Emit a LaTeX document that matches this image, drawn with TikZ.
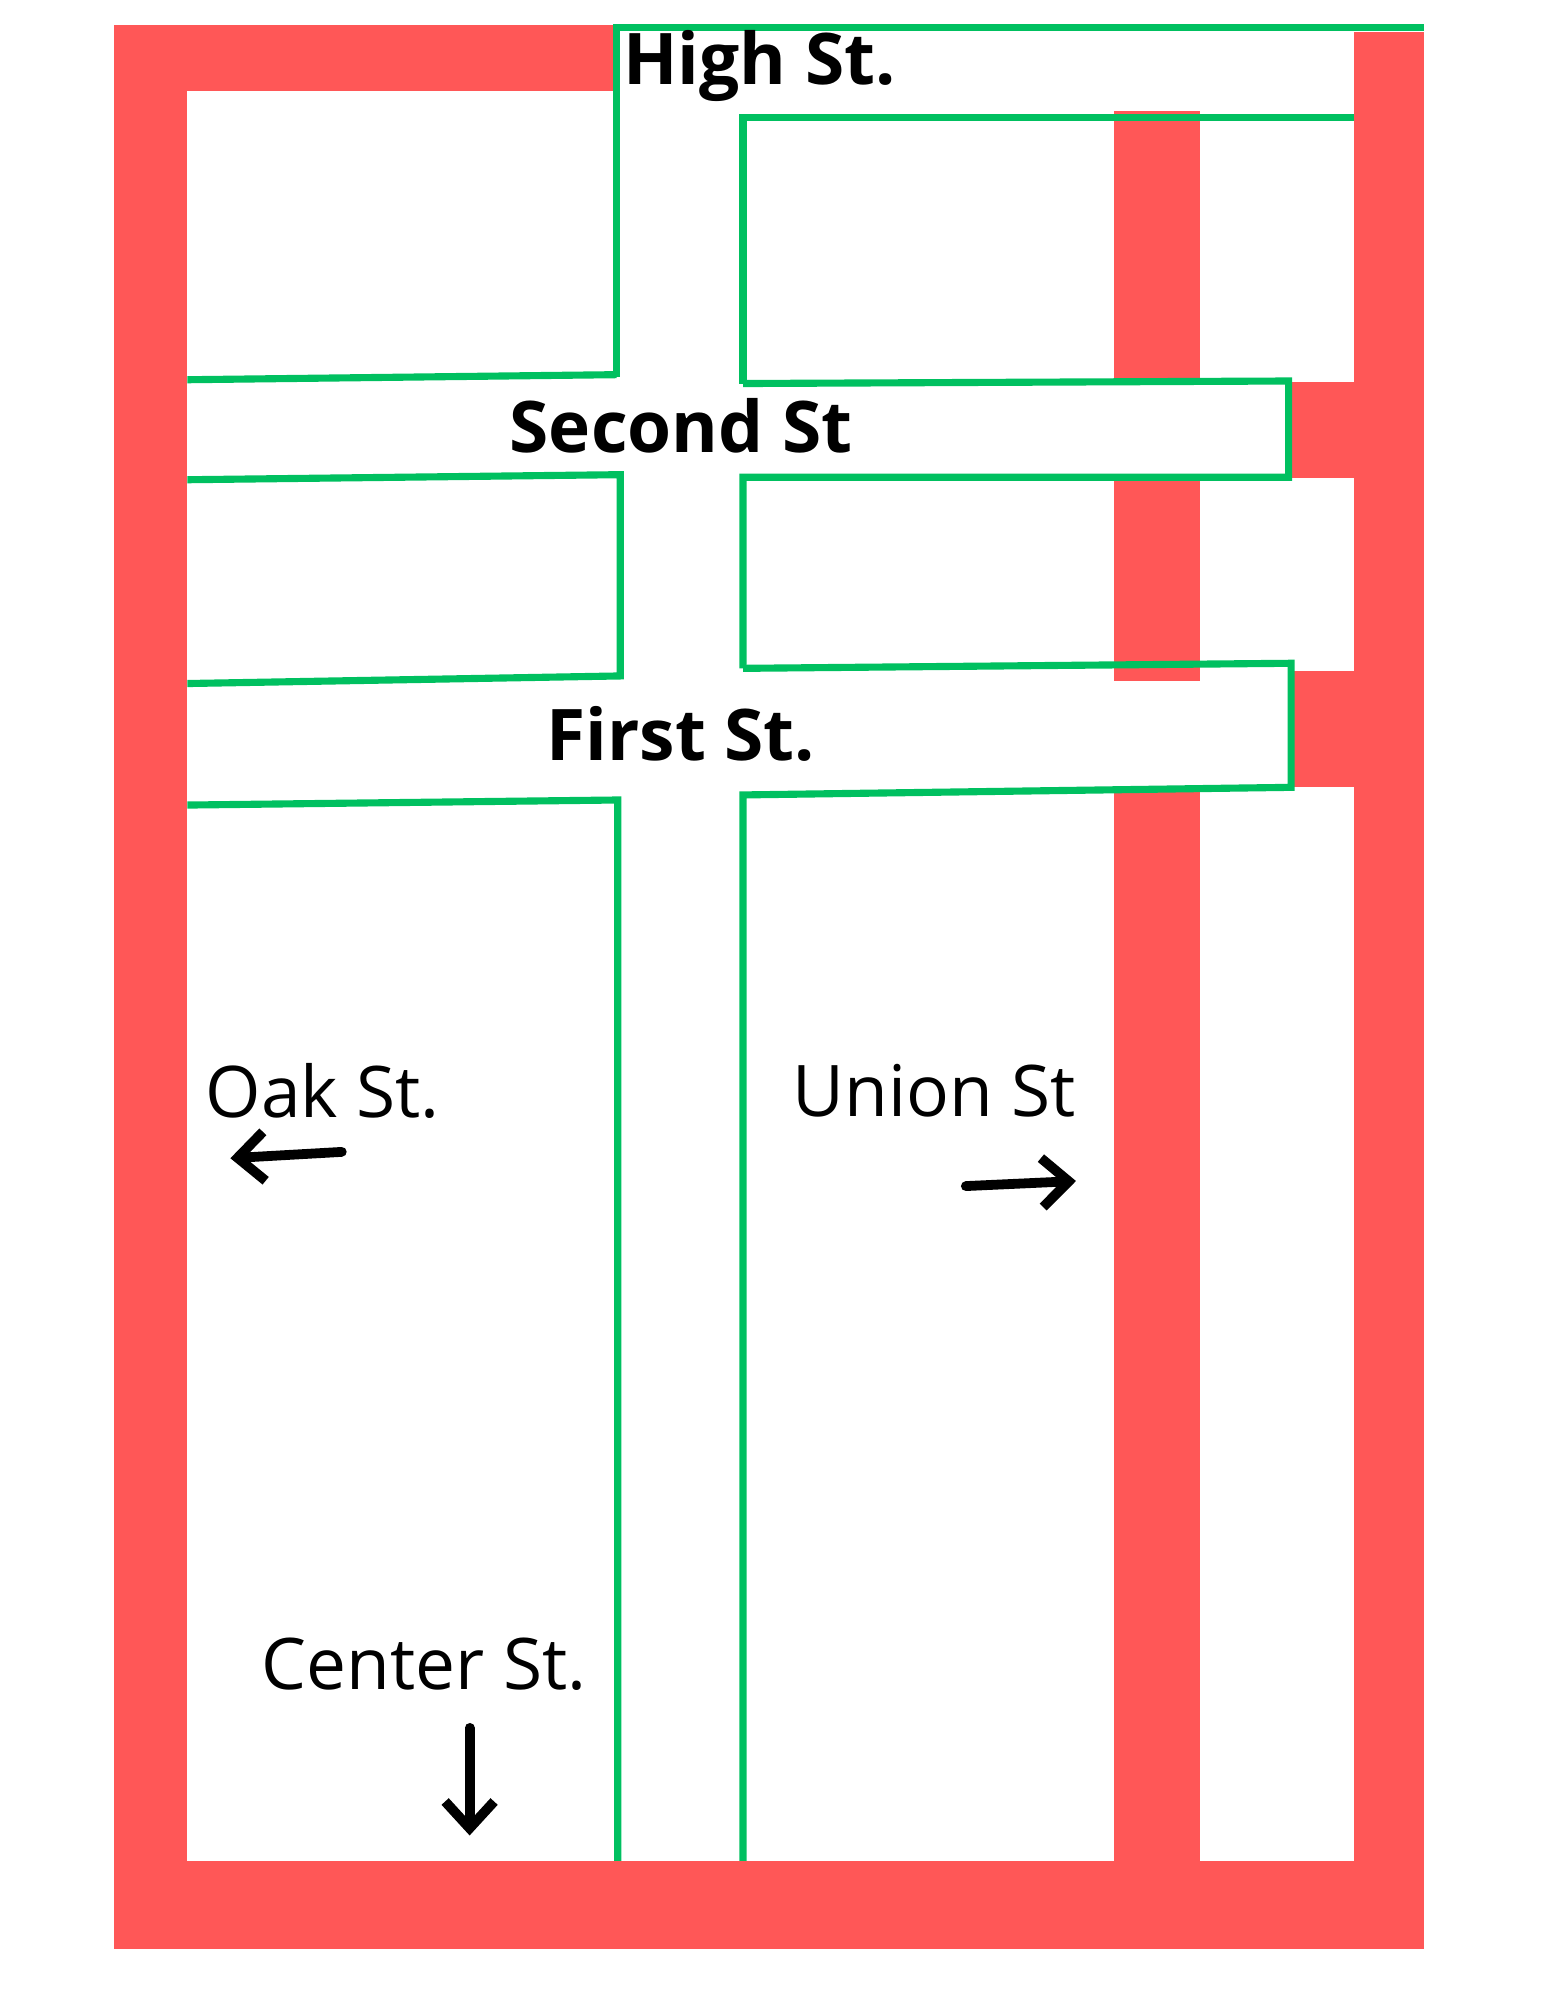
\documentclass[tikz,border=0pt]{standalone}
\usepackage{fontspec}
\setmainfont{Open Sans}
\usetikzlibrary{arrows.meta}
\definecolor{roadred}{HTML}{FF5757}
\definecolor{streetgreen}{HTML}{00C060}
\tikzset{
  road/.style={fill=roadred, draw=none},
  street/.style={draw=streetgreen, line width=1.6pt},
  bigname/.style={font=\fontsize{16}{19}\selectfont\bfseries},
  smallname/.style={font=\fontsize{16}{19}\selectfont},
  way/.style={-{Straight Barb[length=6pt,width=11pt]}, line width=2.2pt, line cap=round}
}
\begin{document}
\begin{tikzpicture}[x=0.01cm,y=-0.01cm]
\useasboundingbox (0,0) rectangle (1220,1580);
% red roads
\fill [road] (90,20) rectangle (148,1540);
\fill [road] (90,20) rectangle (487,72);
\fill [road] (1070,25) rectangle (1125,1535);
\fill [road] (880,88) rectangle (948,1470);
\fill [road] (90,1470) rectangle (1125,1540);
\fill [road] (1018,302) rectangle (1070,378);
\fill [road] (1020,530) rectangle (1125,622);

% street surfaces
\fill [white] (148,300) rectangle (1018,377);
\fill [white] (148,538) rectangle (1020,626);

% green streets
\draw [street] (1125,22) -- (487,22) -- (487,298);
\draw [street] (1070,93) -- (587,93) -- (587,303);
\draw [street] (148,300) -- (487,296);
\draw [street] (587,303) -- (1018,301) -- (1018,377) -- (587,377) -- (587,528);
\draw [street] (148,379) -- (490,375) -- (490,534) -- (148,540);
\draw [street] (587,528) -- (1020,524) -- (1020,622) -- (587,628) -- (587,1470);
\draw [street] (148,636) -- (488,632) -- (488,1470);

% names
\node [bigname] (high) at (600,52) {High St.};
\node [bigname] (second) at (538,336) {Second St};
\node [bigname] (first) at (538,580) {First St.};
\node [smallname] (oak) at (255,862) {Oak St.};
\node [smallname] (union) at (738,862) {Union St};
\node [smallname] (center) at (335,1315) {Center St.};

% directions
\coordinate (oaks) at (270,910);
\coordinate (oake) at (182,915);
\coordinate (unions) at (763,937);
\coordinate (unione) at (850,933);
\coordinate (centers) at (371,1365);
\coordinate (centere) at (371,1450);
\draw [way] (oaks) -- (oake);
\draw [way] (unions) -- (unione);
\draw [way] (centers) -- (centere);
\end{tikzpicture}
\end{document}
